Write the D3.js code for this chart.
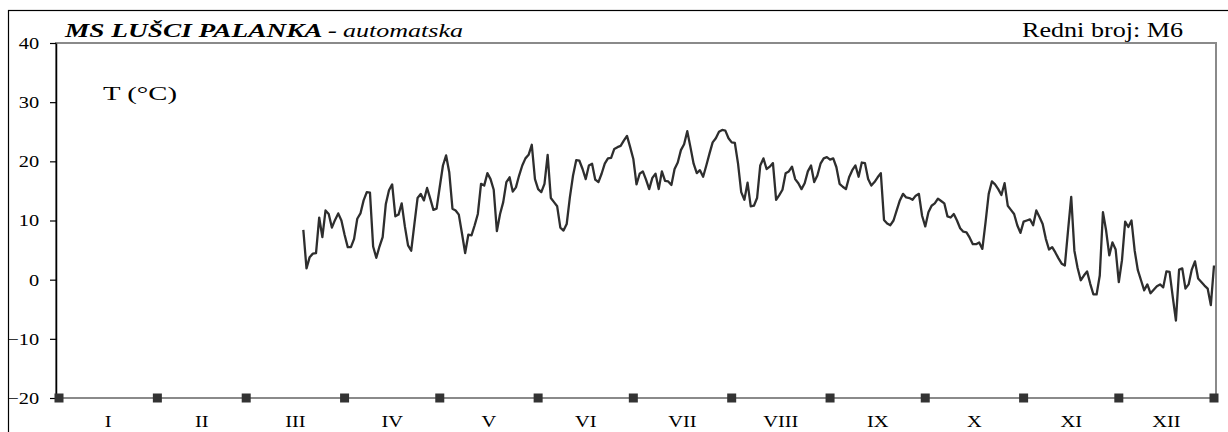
<!DOCTYPE html>
<html>
<head>
<meta charset="utf-8">
<script src="https://cdn.jsdelivr.net/npm/d3@7"></script>
<style>
  html, body { margin: 0; padding: 0; background: #fff; }
  svg { display: block; }
  text { font-family: "Liberation Serif", "Times New Roman", serif; fill: #000; }
</style>
</head>
<body>
<svg id="chart" width="1228" height="432"></svg>
<script>
// ---------------- DATA ----------------
const monthLabels = ["I","II","III","IV","V","VI","VII","VIII","IX","X","XI","XII"];
// day-of-year (0 = 1 Jan) of each month start, plus the last day (31 Dec)
const monthStartDays = [0,31,59,90,120,151,181,212,243,273,304,334,364];
const yTickValues = [-20,-10,0,10,20,30,40];
const titleBold = "MS LUŠCI PALANKA -";
const titleItalic = "automatska";
const stationNo = "Redni broj: M6";
const unitLabel = "T (°C)";
// first day (0-based day-of-year) of the daily series
const firstDay = 77;
// daily mean air temperature (°C)
const temps = [
  8.4, 1.9, 3.8, 4.4, 4.5, 10.5, 7.2, 11.7, 11.1, 8.8, 10.1, 11.2, 10.0, 7.6, 5.5, 5.5,
  6.9, 10.3, 11.2, 13.4, 14.8, 14.7, 5.6, 3.7, 5.6, 7.2, 12.8, 15.1, 16.1, 10.7, 11.0,
  12.9, 9.0, 5.8, 4.9, 9.4, 13.8, 14.5, 13.4, 15.5, 13.7, 11.8, 12.0, 15.7, 19.3, 21.0,
  18.1, 12.0,
  11.7, 11.0, 7.8, 4.5, 7.6, 7.5, 9.2, 11.1, 16.2, 15.9, 18.0, 17.0, 15.2, 8.2, 11.1,
  13.1, 16.5, 17.3, 14.9, 15.6, 17.6, 19.3, 20.5, 21.1, 22.8, 17.0, 15.3, 14.8, 16.2,
  21.1, 13.8, 13.1, 12.4, 8.8, 8.3, 9.4, 13.9, 17.6, 20.2, 20.1, 18.7, 17.0, 19.3, 19.6,
  16.9, 16.5, 17.9, 19.6, 20.5, 20.6,
  22.1, 22.4, 22.6, 23.5, 24.3, 22.4, 20.4, 16.1, 17.9, 18.3, 16.9, 15.3, 17.2, 17.9,
  15.3, 18.3, 16.7, 16.6, 16.0, 18.7, 19.8, 21.9, 22.9, 25.1, 22.4, 19.6, 18.0, 18.5,
  17.4, 19.3, 21.3, 23.2, 23.9, 25.0, 25.3, 25.2, 23.9, 23.2, 23.1, 19.6, 14.8, 13.5,
  16.4, 12.4, 12.5, 13.8,
  19.3, 20.5, 18.7, 19.1, 19.7, 13.5, 14.3, 15.2, 18.0, 18.3, 19.1, 17.0, 16.3, 15.3,
  16.3, 18.3, 19.3, 16.5, 17.6, 19.6, 20.5, 20.7, 20.3, 20.5, 19.0, 16.2, 15.7, 15.3,
  17.3, 18.5, 19.3, 17.4, 19.8, 19.7, 17.0, 15.9, 16.5, 17.3, 18.0, 10.1, 9.5, 9.2,
  10.0, 11.7, 13.4, 14.5, 13.9,
  13.8, 13.5, 14.2, 14.5, 10.8, 9.0, 11.4, 12.5, 12.9, 13.7, 13.3, 12.9, 10.7, 10.5,
  11.1, 10.0, 8.7, 8.1, 8.0, 7.1, 6.0, 6.0, 6.3, 5.2, 9.7, 14.5, 16.6, 16.1, 15.3, 14.3,
  16.3, 12.5, 11.8, 11.1, 9.2, 7.9, 9.8, 10.0, 10.2, 9.2, 11.7, 10.6, 9.4, 6.9, 5.1, 5.5,
  4.6, 3.6, 2.7, 2.4, 8.3, 14.0, 4.9, 2.0, -0.1, 0.7, 1.4, -0.7, -2.5, -2.5, 0.7, 11.4,
  8.3, 4.1, 6.3, 5.1, -0.4, 3.3, 9.8, 8.9, 10.0, 4.9, 1.6, -0.1, -1.8, -0.8, -2.3, -1.7,
  -1.1, -0.8, -1.3, 1.4, 1.3, -2.9, -6.9, 1.7, 1.9, -1.5, -0.8, 1.7, 3.1, 0.2, -0.4,
  -1.0, -1.5, -4.3, 2.4
];

// ---------------- LAYOUT ----------------
const W = 1228, H = 432;
const plot = { left: 56, right: 1216, top: 43, bottom: 398 };
const svg = d3.select("#chart");

svg.append("rect").attr("width", W).attr("height", H).attr("fill", "#fff");

// outer frame (continues past the right and bottom edges)
svg.append("rect")
  .attr("x", 8.5).attr("y", 10.5).attr("width", W + 10).attr("height", H + 10)
  .attr("fill", "none").attr("stroke", "#000").attr("stroke-width", 1.2);

const x = d3.scaleLinear().domain([0, 364]).range([59, 1214]);
const y = d3.scaleLinear().domain([-20, 40]).range([398, 43]);

// plot area border (grey)
svg.append("rect")
  .attr("x", plot.left).attr("y", plot.top)
  .attr("width", plot.right - plot.left).attr("height", plot.bottom - plot.top)
  .attr("fill", "none").attr("stroke", "#8a8a8a").attr("stroke-width", 2);

// y axis
const yAxis = d3.axisLeft(y).tickValues(yTickValues).tickSizeInner(6).tickSizeOuter(0).tickPadding(8)
  .tickFormat(d3.format("d"));
const gy = svg.append("g").attr("transform", `translate(${plot.left},0)`).call(yAxis);
gy.select(".domain").attr("stroke", "#000").attr("stroke-width", 1.5);
gy.selectAll(".tick line").attr("stroke", "#000").attr("stroke-width", 1.2);
gy.selectAll(".tick text")
  .attr("font-family", "Liberation Serif")
  .attr("font-size", 17)
  .attr("fill", "#000")
  .attr("transform", "scale(1.2,1)");

// x axis line
svg.append("line")
  .attr("x1", plot.left).attr("x2", plot.right)
  .attr("y1", y(-20)).attr("y2", y(-20))
  .attr("stroke", "#8a8a8a").attr("stroke-width", 2);

// month separators (square markers)
const sq = 9;
svg.append("g").selectAll("rect")
  .data(monthStartDays)
  .join("rect")
  .attr("x", d => x(d) - sq / 2)
  .attr("y", y(-20) - sq / 2)
  .attr("width", sq).attr("height", sq)
  .attr("fill", "#333");

// month labels
svg.append("g").selectAll("text")
  .data(monthLabels)
  .join("text")
  .attr("transform", (d, i) => `translate(${(x(monthStartDays[i]) + x(monthStartDays[i + 1])) / 2},427) scale(1.2,1)`)
  .attr("text-anchor", "middle")
  .attr("font-size", 17)
  .text(d => d);

// temperature line
const line = d3.line()
  .x((d, i) => x(firstDay + i))
  .y(d => y(d));
svg.append("path")
  .datum(temps)
  .attr("d", line)
  .attr("fill", "none")
  .attr("stroke", "#2e2e2e")
  .attr("stroke-width", 2.3)
  .attr("stroke-linejoin", "round");

// titles
svg.append("text")
  .attr("x", 65).attr("y", 37)
  .attr("font-size", 19).attr("font-weight", "bold").attr("font-style", "italic")
  .attr("textLength", 272).attr("lengthAdjust", "spacingAndGlyphs")
  .text(titleBold);
svg.append("text")
  .attr("x", 343).attr("y", 37)
  .attr("font-size", 19).attr("font-style", "italic")
  .attr("textLength", 120).attr("lengthAdjust", "spacingAndGlyphs")
  .text(titleItalic);
svg.append("text")
  .attr("x", 1022).attr("y", 37)
  .attr("font-size", 20)
  .attr("textLength", 161).attr("lengthAdjust", "spacingAndGlyphs")
  .text(stationNo);
svg.append("text")
  .attr("x", 103).attr("y", 100)
  .attr("font-size", 19)
  .attr("textLength", 74).attr("lengthAdjust", "spacingAndGlyphs")
  .text(unitLabel);
</script>
</body>
</html>
